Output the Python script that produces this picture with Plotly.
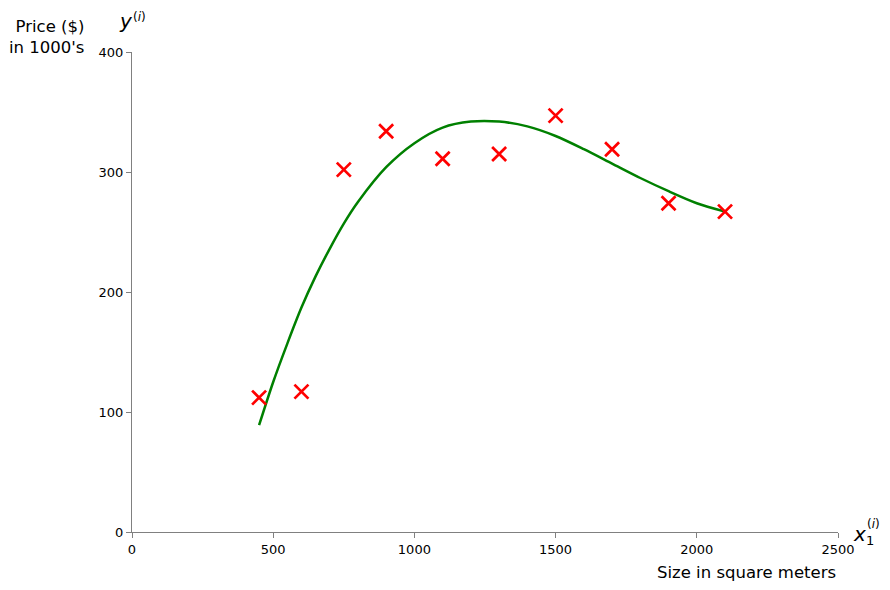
import plotly.graph_objects as go

# training examples
size_m2 = [450, 600, 750, 900, 1100, 1300, 1500, 1700, 1900, 2100]
price_k = [112, 117, 302, 334, 311, 315, 347, 319, 274, 267]

# fitted curve
fit_x = [450, 500, 550, 600, 650, 700, 750, 800, 900, 1000, 1100, 1200,
         1300, 1400, 1500, 1600, 1700, 1800, 1900, 2000, 2100]
fit_y = [89, 125, 157, 187, 213, 236, 257, 275, 304, 324, 337, 342,
         342, 338, 330, 319, 307, 295, 284, 274, 267]

FONT = "DejaVu Sans"

fig = go.Figure()
fig.add_trace(
    go.Scatter(
        x=fit_x,
        y=fit_y,
        mode="lines",
        line=dict(color="green", width=2.5, shape="spline", smoothing=0.8),
        showlegend=False,
    )
)
fig.add_trace(
    go.Scatter(
        x=size_m2,
        y=price_k,
        mode="markers",
        marker=dict(symbol="x-thin", size=14, line=dict(color="red", width=2.7), color="red"),
        showlegend=False,
    )
)

axis_style = dict(
    showgrid=False,
    zeroline=False,
    showline=True,
    linecolor="#808080",
    linewidth=1,
    ticks="outside",
    ticklen=5,
    tickcolor="#808080",
    tickfont=dict(family=FONT, size=13, color="black"),
)

fig.update_xaxes(range=[0, 2500], tickvals=[0, 500, 1000, 1500, 2000, 2500], **axis_style)
fig.update_yaxes(range=[0, 400], tickvals=[0, 100, 200, 300, 400], **axis_style)

# labels placed in page pixels (plot area spans x 132..838, y 52..532)
labels = [
    ("Price ($)<br>in 1000's", 86, 15, "right", "top", 16.5, "right"),
    ("<i>y</i>", 117, 7, "left", "top", 20, "left"),
    ("(<i>i</i>)", 131, 8, "left", "top", 12, "left"),
    ("<i>x</i>", 851, 520, "left", "top", 20, "left"),
    ("1", 864, 531, "left", "top", 13, "left"),
    ("(<i>i</i>)", 865, 515, "left", "top", 12, "left"),
    ("Size in square meters", 838, 561, "right", "top", 16.5, "right"),
]
for text, px_x, px_y, xa, ya, size, align in labels:
    fig.add_annotation(
        text=text,
        x=(px_x - 132) / 706,
        y=(532 - px_y) / 480,
        xref="paper",
        yref="paper",
        xanchor=xa,
        yanchor=ya,
        align=align,
        showarrow=False,
        font=dict(family=FONT, size=size, color="black"),
    )

# the page body adds an 8px offset, so the figure is 8px smaller than the window
fig.update_layout(
    width=882,
    height=582,
    margin=dict(l=124, r=52, t=44, b=58),
    paper_bgcolor="white",
    plot_bgcolor="white",
    font=dict(family=FONT, color="black"),
)

fig.write_html("out.html")
